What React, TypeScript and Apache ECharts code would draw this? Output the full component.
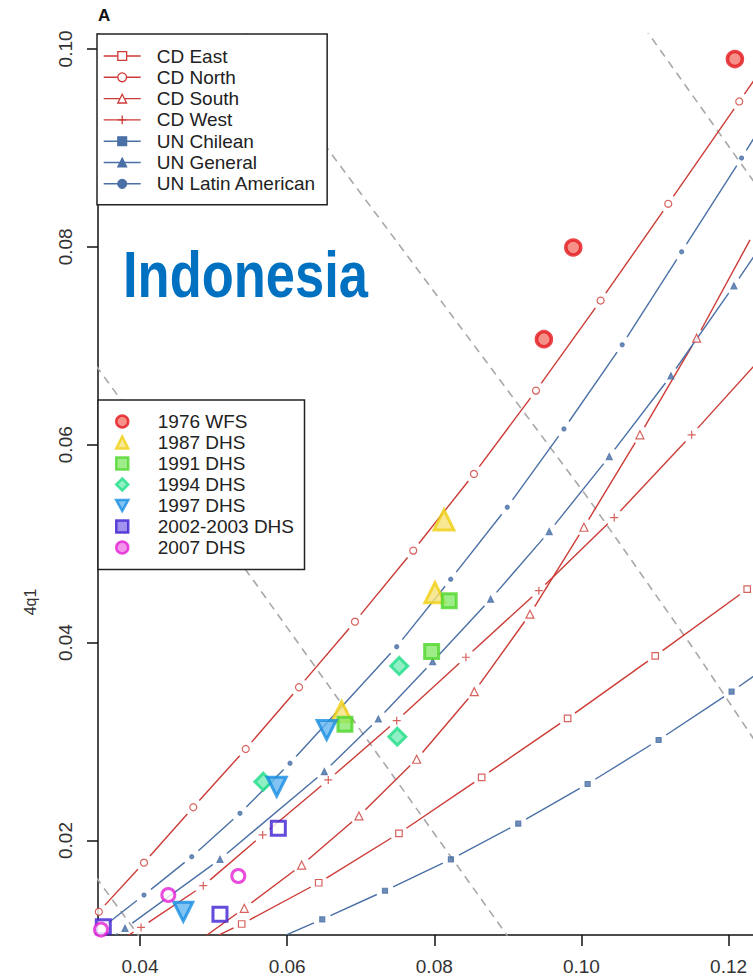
import React, { useEffect, useRef } from 'react';
import * as echarts from 'echarts';

const FONT = '"Liberation Sans", Arial, sans-serif';

// axes
const X_TICKS = [0.04, 0.06, 0.08, 0.1, 0.12];
const Y_TICKS = [0.02, 0.04, 0.06, 0.08, 0.1];
const X_MIN = 0.03429;
const X_MAX = 0.12332;
const Y_MIN = 0.01045;
const Y_MAX = 0.10151;

// model life-table families: [1q0, 4q1]
const MODEL_NAMES = ['CD East', 'CD North', 'CD South', 'CD West', 'UN Chilean', 'UN General', 'UN Latin American'];
const cdEast = [[0.0437, 0.0079], [0.05382, 0.01156], [0.06429, 0.01573], [0.0752, 0.02073], [0.08644, 0.02639], [0.09812, 0.03235], [0.11003, 0.03865], [0.12253, 0.0454], [0.1354, 0.0522]];
const cdNorth = [[0.0344, 0.0128], [0.04054, 0.01776], [0.04724, 0.02336], [0.05437, 0.02925], [0.06161, 0.03549], [0.06922, 0.04212], [0.07714, 0.0493], [0.08539, 0.05705], [0.09382, 0.06547], [0.10261, 0.07457], [0.1118, 0.08435], [0.12145, 0.09469], [0.1316, 0.1055]];
const cdSouth = [[0.0464, 0.009], [0.05417, 0.01315], [0.06197, 0.01752], [0.06976, 0.02248], [0.0776, 0.02821], [0.08543, 0.03504], [0.093, 0.04287], [0.10034, 0.05166], [0.10795, 0.061], [0.11566, 0.07077], [0.1235, 0.0815], [0.1311, 0.0928]];
const cdWest = [[0.032, 0.0074], [0.04014, 0.01122], [0.0486, 0.01543], [0.05667, 0.02056], [0.06559, 0.02612], [0.07489, 0.03211], [0.0843, 0.03852], [0.09422, 0.04525], [0.10446, 0.05264], [0.11498, 0.061], [0.1258, 0.0699]];
const unChilean = [[0.0566, 0.0094], [0.06477, 0.01203], [0.0733, 0.01492], [0.08226, 0.0181], [0.09141, 0.0217], [0.10084, 0.02571], [0.11049, 0.03016], [0.12041, 0.03504], [0.1305, 0.0403]];
const unGeneral = [[0.0316, 0.0078], [0.03796, 0.01112], [0.05087, 0.0181], [0.06505, 0.02696], [0.07239, 0.03228], [0.07978, 0.03808], [0.08766, 0.04439], [0.09562, 0.05122], [0.10378, 0.0588], [0.11216, 0.06696], [0.12072, 0.07606], [0.1295, 0.0856]];
const unLatin = [[0.034, 0.0107], [0.04054, 0.01449], [0.04703, 0.01836], [0.05359, 0.02275], [0.06039, 0.02781], [0.07489, 0.03959], [0.08223, 0.04641], [0.08992, 0.05369], [0.09762, 0.0616], [0.10554, 0.0701], [0.11362, 0.0795], [0.12177, 0.08897], [0.1301, 0.099]];
const MODELS = [cdEast, cdNorth, cdSouth, cdWest, unChilean, unGeneral, unLatin];

// survey estimates: [1q0, 4q1]
const SURVEY_NAMES = ['1976 WFS', '1987 DHS', '1991 DHS', '1994 DHS', '1997 DHS', '2002-2003 DHS', '2007 DHS'];
const wfs1976 = [[0.12086, 0.09898], [0.09889, 0.07993], [0.0949, 0.07067]];
const dhs1987 = [[0.08131, 0.0524], [0.08009, 0.04505], [0.06741, 0.03302]];
const dhs1991 = [[0.08203, 0.04424], [0.07964, 0.03909], [0.06786, 0.03175]];
const dhs1994 = [[0.07524, 0.03764], [0.07497, 0.03049], [0.05676, 0.02594]];
const dhs1997 = [[0.06537, 0.03117], [0.05858, 0.02544], [0.04588, 0.0128]];
const dhs2002 = [[0.0588, 0.02123], [0.05087, 0.01254], [0.03501, 0.01129]];
const dhs2007 = [[0.05336, 0.01641], [0.04385, 0.01449], [0.0347, 0.011]];
const SURVEYS = [wfs1976, dhs1987, dhs1991, dhs1994, dhs1997, dhs2002, dhs2007];

// grey dashed iso-5q0 guide lines
const iso05 = [[0.034, 0.0163], [0.0402, 0.01]];
const iso10 = [[0.034, 0.068], [0.0554, 0.0463], [0.09, 0.0103]];
const iso15 = [[0.054, 0.102], [0.0661, 0.0893], [0.1008, 0.0547], [0.1153, 0.0393], [0.124, 0.0296]];
const iso20 = [[0.1085, 0.1022], [0.124, 0.086]];
const ISO_LINES = [iso05, iso10, iso15, iso20];

const RED = '#cc3b36';
const BLUE = '#4a70a6';
const PLUS = 'path://M0,5L10,5M5,0L5,10';
const DOWN_TRI = 'path://M0,0L10,0L5,9Z';

const MODEL_STYLES: any[] = [
  { symbol: 'rect', size: 6.5, color: RED, fill: '#ffffff' },
  { symbol: 'circle', size: 7, color: RED, fill: '#ffffff' },
  { symbol: 'triangle', size: 8, color: RED, fill: '#ffffff' },
  { symbol: PLUS, size: 8, color: RED, fill: 'transparent' },
  { symbol: 'rect', size: 5, color: BLUE, fill: BLUE },
  { symbol: 'triangle', size: 6, color: BLUE, fill: BLUE },
  { symbol: 'circle', size: 4, color: BLUE, fill: BLUE },
];

const SURVEY_STYLES: any[] = [
  { symbol: 'circle', size: 15, stroke: '#e3161b', fill: '#f2766b', bw: 3.5, legendFill: '#f2766b' },
  { symbol: 'triangle', size: 20, stroke: '#f0cf12', fill: '#f6e27a', bw: 3, legendFill: '#f6e27a' },
  { symbol: 'rect', size: 14, stroke: '#4fd62a', fill: '#86e86a', bw: 3, legendFill: '#86e86a' },
  { symbol: 'diamond', size: 17, stroke: '#20dd8a', fill: '#74ecb4', bw: 3, legendFill: '#74ecb4' },
  { symbol: DOWN_TRI, size: 19, stroke: '#178de2', fill: '#62b4f0', bw: 3, legendFill: '#62b4f0' },
  { symbol: 'rect', size: 14, stroke: '#3d1ed2', fill: '#ffffff', bw: 3, legendFill: '#8a78e8' },
  { symbol: 'circle', size: 13, stroke: '#e51fd6', fill: '#ffffff', bw: 3, legendFill: '#f07ae6' },
];

const GAP = 9;

function buildOption() {
  const series: any[] = [];

  ISO_LINES.forEach((l, i) => {
    series.push({
      type: 'line', name: '_iso' + i, data: l, symbol: 'none', silent: true, z: 2,
      lineStyle: { color: '#a8a8a8', width: 1.6, type: [8, 6] },
    });
  });

  MODELS.forEach((m, i) => {
    const st = MODEL_STYLES[i];
    const itemStyle = { color: st.fill, borderColor: st.color, borderWidth: 1.2 };
    // legend proxy (line + symbol icon)
    series.push({
      type: 'line', name: MODEL_NAMES[i], data: [], symbol: st.symbol, symbolSize: st.size,
      itemStyle, lineStyle: { color: st.color, width: 1.4 },
    });
    const segs: number[][] = [];
    for (let k = 0; k < m.length - 1; k++) segs.push([m[k][0], m[k][1], m[k + 1][0], m[k + 1][1]]);
    series.push({
      type: 'custom', name: '_seg' + i, data: segs, clip: true, silent: true, z: 3,
      renderItem: (_params: any, api: any) => {
        const p1 = api.coord([api.value(0), api.value(1)]);
        const p2 = api.coord([api.value(2), api.value(3)]);
        const dx = p2[0] - p1[0];
        const dy = p2[1] - p1[1];
        const len = Math.sqrt(dx * dx + dy * dy);
        if (len <= 2 * GAP + 1) return null;
        const ux = dx / len;
        const uy = dy / len;
        return {
          type: 'line',
          shape: { x1: p1[0] + ux * GAP, y1: p1[1] + uy * GAP, x2: p2[0] - ux * GAP, y2: p2[1] - uy * GAP },
          style: { stroke: st.color, lineWidth: 1.4 },
        };
      },
    });
    series.push({
      type: 'scatter', name: '_mk' + i, data: m, symbol: st.symbol, symbolSize: st.size,
      itemStyle, z: 4, silent: true,
    });
  });

  SURVEYS.forEach((s, i) => {
    const st = SURVEY_STYLES[i];
    series.push({
      type: 'scatter', name: SURVEY_NAMES[i], data: s, symbol: st.symbol, symbolSize: st.size,
      itemStyle: { color: st.fill, borderColor: st.stroke, borderWidth: st.bw },
      z: 5, silent: true,
    });
  });

  return {
    animation: false,
    backgroundColor: '#ffffff',
    grid: { left: 98, right: 0, top: 34, bottom: 45, containLabel: false, outerBoundsMode: 'none' },
    xAxis: {
      type: 'value', min: X_MIN, max: X_MAX,
      axisLine: { show: true, onZero: false, lineStyle: { color: '#111', width: 1.5 } },
      axisTick: { show: true, length: 11, customValues: X_TICKS, lineStyle: { color: '#111', width: 1.5 } },
      axisLabel: {
        customValues: X_TICKS, formatter: (v: number) => v.toFixed(2),
        fontSize: 19, fontFamily: FONT, color: '#333', margin: 22,
      },
      splitLine: { show: false },
    },
    yAxis: {
      type: 'value', min: Y_MIN, max: Y_MAX,
      axisLine: { show: true, onZero: false, lineStyle: { color: '#111', width: 1.5 } },
      axisTick: { show: true, length: 11, customValues: Y_TICKS, lineStyle: { color: '#111', width: 1.5 } },
      axisLabel: {
        customValues: Y_TICKS, formatter: (v: number) => v.toFixed(2), rotate: 90,
        fontSize: 19, fontFamily: FONT, color: '#333', margin: 23,
      },
      splitLine: { show: false },
    },
    legend: [
      {
        data: MODEL_NAMES, orient: 'vertical', left: 97, top: 34,
        padding: [11.5, 11, 10.5, 6], itemWidth: 37, itemHeight: 11, itemGap: 0.3,
        backgroundColor: '#ffffff', borderColor: '#222', borderWidth: 1.5, borderRadius: 0,
        z: 10, selectedMode: false,
        textStyle: { fontSize: 19, fontFamily: FONT, color: '#222', lineHeight: 21, padding: [0, 0, 0, 11] },
        itemStyle: { borderWidth: 1.3 },
        lineStyle: { width: 1.4, type: 'solid' },
      },
      {
        data: SURVEY_NAMES.map((n, i) => ({ name: n, itemStyle: { color: SURVEY_STYLES[i].legendFill } })),
        orient: 'vertical', left: 98, top: 400,
        padding: [11, 10.5, 11.5, 17], itemWidth: 12, itemHeight: 12, itemGap: 0,
        backgroundColor: '#ffffff', borderColor: '#222', borderWidth: 1.5, borderRadius: 0,
        z: 10, selectedMode: false,
        textStyle: { fontSize: 19, fontFamily: FONT, color: '#222', lineHeight: 21, padding: [0, 0, 0, 24.5] },
        itemStyle: { borderWidth: 2.5 },
      },
    ],
    graphic: [
      {
        type: 'text', x: 98, y: 15, z: 20,
        style: { text: 'A', fontSize: 17, fontWeight: 'bold', fontFamily: FONT, fill: '#111', align: 'left', verticalAlign: 'middle' },
      },
      {
        type: 'text', x: 123, y: 274.5, scaleX: 0.82, z: 20,
        style: { text: 'Indonesia', fontSize: 64, fontWeight: 'bold', fontFamily: FONT, fill: '#0070C0', align: 'left', verticalAlign: 'middle' },
      },
      {
        type: 'text', x: 30, y: 602, rotation: Math.PI / 2, z: 20,
        style: { text: '4q1', fontSize: 16, fontFamily: FONT, fill: '#333', align: 'center', verticalAlign: 'middle' },
      },
    ],
    series,
  };
}

export default function App() {
  const ref = useRef<HTMLDivElement>(null);
  useEffect(() => {
    document.body.style.margin = '0';
    const chart = echarts.init(ref.current as HTMLDivElement, null, { renderer: 'svg' });
    chart.setOption(buildOption() as any);
    return () => chart.dispose();
  }, []);
  return <div ref={ref} style={{ width: 753, height: 980 }} />;
}
